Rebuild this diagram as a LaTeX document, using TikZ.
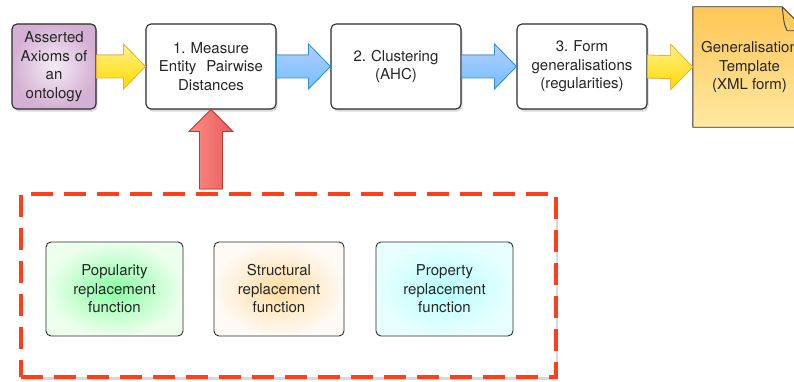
\documentclass[tikz,border=0pt]{standalone}
\usepackage{fontspec}
\setmainfont{TeX Gyre Heros}
\usepackage{xcolor}
\usepackage{tikz}
\usetikzlibrary{calc,shadows,backgrounds}

\definecolor{boxline}{HTML}{2B2B2B}
\definecolor{dashred}{HTML}{FF3F1C}
\definecolor{yelline}{HTML}{EDB02E}
\definecolor{bluline}{HTML}{2F8ED6}
\definecolor{redline}{HTML}{C23B2C}
\definecolor{axiomin}{HTML}{F4ECF4}
\definecolor{axiomout}{HTML}{D4B0D4}
\definecolor{doctop}{HTML}{FFC656}
\definecolor{docbot}{HTML}{FFE9A2}

% fat block arrows between two points
\newcommand\hfat[3]{\filldraw[#3] ($(#1)+(0,11.5)$) -- ($(#2)+(-22,11.5)$) -- ($(#2)+(-22,22.5)$) -- (#2) -- ($(#2)+(-22,-22.5)$) -- ($(#2)+(-22,-11.5)$) -- ($(#1)+(0,-11.5)$) -- cycle;}
\newcommand\vfat[3]{\filldraw[#3] ($(#1)+(-11.5,0)$) -- ($(#2)+(-11.5,-22)$) -- ($(#2)+(-22,-22)$) -- (#2) -- ($(#2)+(22,-22)$) -- ($(#2)+(11.5,-22)$) -- ($(#1)+(11.5,0)$) -- cycle;}

\tikzset{
  stage/.style={draw=boxline, line width=1.1pt, rounded corners=5pt, fill=white,
    align=center, inner sep=0pt, minimum width=130pt, minimum height=85pt, text width=124pt,
    drop shadow={shadow xshift=1.5pt, shadow yshift=-2.5pt, opacity=0.3}},
  func/.style={draw=boxline, line width=0.9pt, rounded corners=5pt,
    align=center, inner sep=0pt, minimum width=137pt, minimum height=94pt, text width=130pt},
  yelarrow/.style={draw=yelline, line width=0.8pt, top color=yellow!40!white!90!orange, bottom color=yellow!70!orange},
  bluarrow/.style={draw=bluline, line width=0.8pt, top color=cyan!35!blue!30!white, bottom color=cyan!55!blue!55!white},
  redarrow/.style={draw=redline, line width=0.8pt, left color=red!45!white!95!orange, right color=red!60!white!90!black}
}

\begin{document}
\frenchspacing
\begin{tikzpicture}[x=1pt, y=1pt, font=\fontsize{15}{18.5}\selectfont, text=black!85]
    \useasboundingbox (0,0) rectangle (794,381);

    % pipeline
    \node[stage, minimum width=84pt, text width=80pt, inner color=axiomin, outer color=axiomout] (axioms) at (54,314.5) {Asserted\\Axioms of\\an\\ontology};
    \node[stage] (measure) at (211,314.5) {1. Measure\\Entity~ Pairwise\\Distances};
    \node[stage] (cluster) at (396,314.5) {2. Clustering\\(AHC)};
    \node[stage] (form) at (582,314.5) {3. Form\\generalisations\\(regularities)};
    \node[align=center, inner sep=0pt, minimum width=113pt, minimum height=120pt] (template) at (749.5,314) {Generalisation\\Template\\(XML form)};
    \begin{scope}[on background layer]
        \filldraw[draw=black!75, line width=0.9pt, top color=doctop, bottom color=docbot]
            (template.south west) -- (template.north west) -- ($(template.north east)+(-24,0)$)
            -- ($(template.north east)+(0,-24)$) -- (template.south east) -- cycle;
        \draw[black!75, line width=0.9pt] ($(template.north east)+(-24,0)$) .. controls ($(template.north east)+(-22,-18)$) .. ($(template.north east)+(-19,-24)$) -- ($(template.north east)+(0,-24)$);
    \end{scope}

    % Flow arrows
    \hfat{axioms.east}{measure.west}{yelarrow}
    \hfat{measure.east}{cluster.west}{bluarrow}
    \hfat{cluster.east}{form.west}{bluarrow}
    \hfat{form.east}{template.west}{yelarrow}

    % replacement functions
    \node[draw=dashred, line width=4pt, dash pattern=on 22pt off 11pt, fill=white, inner sep=0pt,
          minimum width=535pt, minimum height=183pt,
          drop shadow={shadow xshift=2pt, shadow yshift=-2.5pt, opacity=0.3}] (group) at (288.5,95.5) {};
    \vfat{$(measure.south |- group.north)+(0,3)$}{measure.south}{redarrow}
    \node[func, inner color=green!40!white!90!cyan, outer color=green!7!white] (popular) at (114.5,92) {Popularity\\replacement\\function};
    \node[func, minimum width=130pt, inner color=orange!30!white!90!yellow, outer color=orange!4!white] (struct) at (279,92) {Structural\\replacement\\function};
    \node[func, inner color=cyan!28!white, outer color=cyan!9!white] (property) at (444.5,92) {Property\\replacement\\function};
\end{tikzpicture}
\end{document}
